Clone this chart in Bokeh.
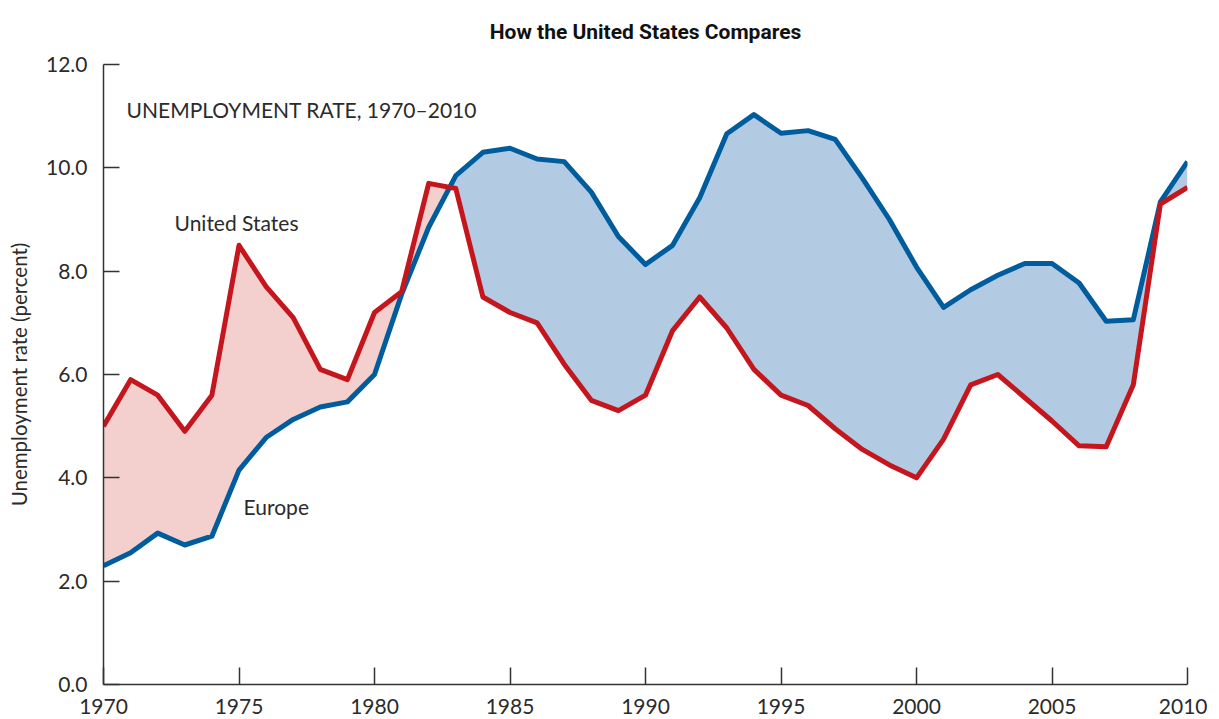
import numpy as np
from bokeh.plotting import figure
from bokeh.models import FixedTicker, Label, PrintfTickFormatter, Range1d
from bokeh.embed import file_html
from bokeh.resources import INLINE

years = list(range(1970, 2011))
united_states = [5.0, 5.9, 5.6, 4.9, 5.6, 8.5, 7.7, 7.1, 6.1, 5.9,
                 7.2, 7.6, 9.7, 9.6, 7.5, 7.2, 7.0, 6.2, 5.5, 5.3,
                 5.6, 6.85, 7.5, 6.9, 6.1, 5.6, 5.4, 4.95, 4.55, 4.25,
                 4.0, 4.75, 5.8, 6.0, 5.55, 5.1, 4.62, 4.6, 5.8, 9.3, 9.62]
europe = [2.3, 2.55, 2.93, 2.7, 2.87, 4.15, 4.78, 5.13, 5.37, 5.47,
          6.0, 7.55, 8.85, 9.85, 10.3, 10.38, 10.17, 10.12, 9.53, 8.67,
          8.13, 8.5, 9.42, 10.66, 11.03, 10.67, 10.72, 10.55, 9.8, 9.0,
          8.08, 7.3, 7.64, 7.92, 8.15, 8.15, 7.77, 7.03, 7.06, 9.34, 10.12]
x_ticks = [1970, 1975, 1980, 1985, 1990, 1995, 2000, 2005, 2010]
y_ticks = [0, 2, 4, 6, 8, 10, 12]

RED = "#c5161d"
BLUE = "#005d9d"
RED_FILL = "#f3cfcd"
BLUE_FILL = "#b3cae3"
TEXT = "#2b2b2b"
FONT = "Lato"

# insert crossing points so the two-colour band changes colour exactly where lines cross
xs, us_i, eu_i = [], [], []
for i in range(len(years)):
    xs.append(years[i]); us_i.append(united_states[i]); eu_i.append(europe[i])
    if i < len(years) - 1:
        d0 = united_states[i] - europe[i]
        d1 = united_states[i + 1] - europe[i + 1]
        if d0 * d1 < 0:
            t = d0 / (d0 - d1)
            xc = years[i] + t
            yc = united_states[i] + t * (united_states[i + 1] - united_states[i])
            xs.append(xc); us_i.append(yc); eu_i.append(yc)
xs = np.array(xs); us_i = np.array(us_i); eu_i = np.array(eu_i)
top = np.maximum(us_i, eu_i)

p = figure(frame_width=1084, frame_height=620, output_backend="svg",
           toolbar_location=None, x_range=Range1d(1970, 2010), y_range=Range1d(0, 12),
           min_border_left=103, min_border_right=20, min_border_top=0, min_border_bottom=10,
           background_fill_color="white", border_fill_color="white")
p.outline_line_color = None
p.grid.visible = False

p.title.text = "How the United States Compares"
p.title.align = "center"
p.title.vertical_align = "top"
p.title.text_font = "Roboto"
p.title.text_font_style = "bold"
p.title.text_font_size = "21px"
p.title.text_color = "#111111"
p.title.standoff = 38

p.varea(x=xs, y1=eu_i, y2=top, fill_color=RED_FILL)
p.varea(x=xs, y1=us_i, y2=top, fill_color=BLUE_FILL)
p.line(years, europe, line_color=BLUE, line_width=5, line_join="round")
p.line(years, united_states, line_color=RED, line_width=5, line_join="round")

for ax in (p.xaxis[0], p.yaxis[0]):
    ax.axis_line_color = "#333333"
    ax.axis_line_width = 1.5
    ax.major_tick_line_color = "#333333"
    ax.major_tick_line_width = 1.5
    ax.major_tick_out = 0
    ax.minor_tick_line_color = None
    ax.major_label_text_font = FONT
    ax.major_label_text_font_size = "21px"
    ax.major_label_text_color = TEXT

p.xaxis.ticker = FixedTicker(ticks=x_ticks)
p.xaxis.major_tick_in = 17
p.xaxis.major_label_standoff = 14
p.yaxis.ticker = FixedTicker(ticks=y_ticks)
p.yaxis.formatter = PrintfTickFormatter(format="%.1f")
p.yaxis.major_tick_in = 16
p.yaxis.major_label_standoff = 16
p.yaxis.axis_label = "Unemployment rate (percent)"
p.yaxis.axis_label_text_font = FONT
p.yaxis.axis_label_text_font_style = "normal"
p.yaxis.axis_label_text_font_size = "20.5px"
p.yaxis.axis_label_text_color = TEXT
p.yaxis.axis_label_standoff = 12

p.add_layout(Label(x=1970.85, y=11.13, text="UNEMPLOYMENT RATE, 1970–2010",
                   text_font=FONT, text_font_size="21px", text_color=TEXT,
                   text_baseline="middle"))
p.add_layout(Label(x=1972.62, y=8.94, text="United States",
                   text_font=FONT, text_font_size="21px", text_color=TEXT,
                   text_baseline="middle"))
p.add_layout(Label(x=1975.17, y=3.44, text="Europe",
                   text_font=FONT, text_font_size="21px", text_color=TEXT,
                   text_baseline="middle"))

open("out.html", "w").write(file_html(p, INLINE))
